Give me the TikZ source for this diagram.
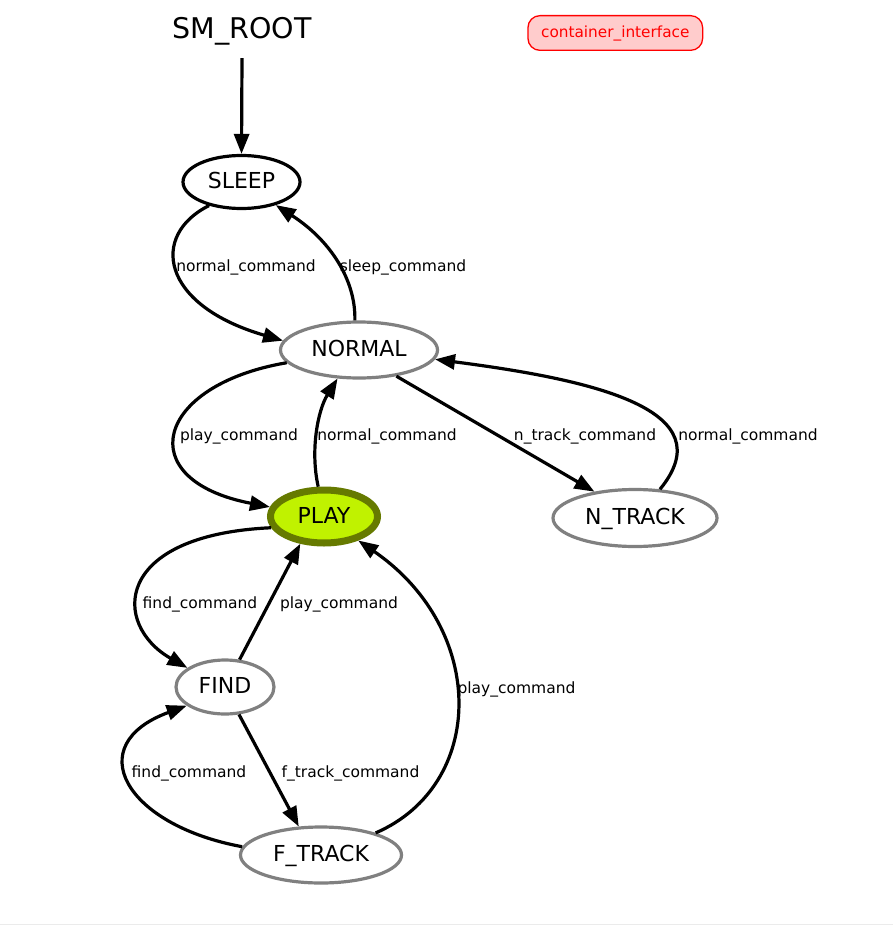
\documentclass[tikz,border=0pt]{standalone}
\usepackage{fontspec}
\setmainfont{DejaVu Sans}
\usetikzlibrary{arrows.meta,shapes.geometric}
\definecolor{playfill}{RGB}{192,242,0}
\definecolor{playdraw}{RGB}{102,122,0}
\definecolor{stgray}{RGB}{128,128,128}
\definecolor{cifill}{RGB}{255,204,204}
\definecolor{cidraw}{RGB}{255,0,0}
\begin{document}
\begin{tikzpicture}[x=1pt,y=-1pt,
  stnode/.style={ellipse, draw=stgray, line width=3.2pt, inner sep=0pt,
    font=\fontsize{22}{24}\selectfont, text height=16.6pt, text depth=3.6pt},
  conn/.style={line width=3.2pt, -{Triangle[length=20pt,width=15pt]}},
  lbl/.style={font=\fontsize{15.5}{18}\selectfont, anchor=base, inner sep=0pt},
]
\useasboundingbox (0,0) rectangle (893,925);
\fill[white] (0,0) rectangle (893,925);
\draw[line width=1pt, black!8] (0,924.5) -- (893,924.5);

% nodes
\node[font=\fontsize{28.5}{32}\selectfont, anchor=base, inner sep=0pt, text depth=19.5pt] (SMROOT) at (242,38.5) {SM\_ROOT};
\node[rectangle, rounded corners=12pt, draw=cidraw, fill=cifill, line width=1.3pt,
  minimum width=174.7pt, minimum height=34.7pt, inner sep=0pt, text=cidraw,
  font=\fontsize{15.3}{18}\selectfont, text height=11pt, text depth=1pt] (CI) at (615.3,33) {container\_interface};

\node[stnode, draw=black, minimum width=117pt, minimum height=53pt] (SLEEP) at (241.5,182) {SLEEP};
\node[stnode, minimum width=157pt, minimum height=56pt] (NORMAL) at (359,350) {NORMAL};
\node[stnode, draw=playdraw, fill=playfill, line width=7pt, minimum width=107pt, minimum height=53pt] (PLAY) at (324,516.5) {PLAY};
\node[stnode, minimum width=164pt, minimum height=57pt] (NTRACK) at (635,518) {N\_TRACK};
\node[stnode, minimum width=98pt, minimum height=54pt] (FIND) at (225,687) {FIND};
\node[stnode, minimum width=161pt, minimum height=56pt] (FTRACK) at (321,855) {F\_TRACK};

% connectors
\draw[conn] (SMROOT.south) -- (SLEEP.north);
\draw[conn] (SLEEP.216) .. controls (150,235) and (160,305) .. (NORMAL.173);
\draw[conn] (NORMAL.98) .. controls (356,280) and (330,240) .. (SLEEP.-34.5);
\draw[conn] (NORMAL.190) .. controls (155,385) and (130,480) .. (PLAY.170);
\draw[conn] (PLAY.101) .. controls (310,450) and (318,410) .. (NORMAL.233);
\draw[conn] (NORMAL.-35) -- (NTRACK.147);
\draw[conn] (NTRACK.49) .. controls (725,410) and (595,380) .. (NORMAL.-7);
\draw[conn] (PLAY.192) .. controls (112,535) and (112,625) .. (FIND.153);
\draw[conn] (FIND.62) -- (PLAY.229);
\draw[conn] (FTRACK.22) .. controls (486,785) and (488,630) .. (PLAY.-35);
\draw[conn] (FIND.-63) -- (FTRACK.128);
\draw[conn] (FTRACK.174) .. controls (125,825) and (80,745) .. (FIND.206);

% labels
\node[lbl] (l1) at (246,271.5) {normal\_command};
\node[lbl] (l2) at (403,271.5) {sleep\_command};
\node[lbl] (l3) at (239,440.5) {play\_command};
\node[lbl] (l4) at (387,440.5) {normal\_command};
\node[lbl] (l5) at (585,440.5) {n\_track\_command};
\node[lbl] (l6) at (748,440.5) {normal\_command};
\node[lbl] (l7) at (200,608.5) {find\_command};
\node[lbl] (l8) at (339,608.5) {play\_command};
\node[lbl] (l9) at (516.5,693.5) {play\_command};
\node[lbl] (l10) at (350.5,777.5) {f\_track\_command};
\node[lbl] (l11) at (189,777.5) {find\_command};
\end{tikzpicture}
\end{document}
